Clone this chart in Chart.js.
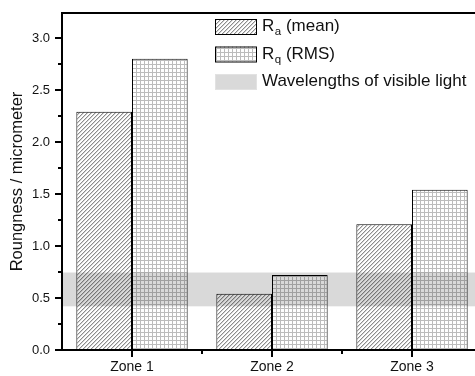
<!DOCTYPE html>
<html>
<head>
<meta charset="utf-8">
<script src="https://cdn.jsdelivr.net/npm/chart.js@4"></script>
<style>
html,body{margin:0;padding:0;overflow:hidden;background:#fff;width:475px;height:376px;}
#wrap{width:475px;height:376px;overflow:hidden;}
canvas{display:block;}
</style>
</head>
<body>
<div id="wrap"><canvas id="c" width="482" height="376" style="width:482px;height:376px"></canvas></div>
<script>
// ---- data ----
const zones = ['Zone 1', 'Zone 2', 'Zone 3'];
const raMean = [2.29, 0.54, 1.21];
const rqRms = [2.80, 0.72, 1.54];
const visibleLightBand = [0.42, 0.745];
const yAxisTitle = 'Roungness / micrometer';
const legendRa = ['R', 'a', ' (mean)'];
const legendRq = ['R', 'q', ' (RMS)'];
const legendBand = 'Wavelengths of visible light';

const FONT = '"Liberation Sans", Arial, Helvetica, sans-serif';

function hatchPattern() {
  const c = document.createElement('canvas'); c.width = 4; c.height = 4;
  const x = c.getContext('2d');
  x.fillStyle = '#fff'; x.fillRect(0, 0, 4, 4);
  x.fillStyle = '#d6d6d6';
  for (let i = 0; i < 4; i++) x.fillRect(i, (4 - i) % 4, 1, 1);
  x.fillStyle = '#8c8c8c';
  for (let i = 0; i < 4; i++) x.fillRect(i, 3 - i, 1, 1);
  return x.createPattern(c, 'repeat');
}
function gridPattern() {
  const c = document.createElement('canvas'); c.width = 4; c.height = 4;
  const x = c.getContext('2d');
  x.fillStyle = '#fff'; x.fillRect(0, 0, 4, 4);
  x.fillStyle = '#bcbcbc';
  x.fillRect(0, 0, 4, 1);
  x.fillRect(0, 0, 1, 4);
  return x.createPattern(c, 'repeat');
}
const raFill = hatchPattern();
const rqFill = gridPattern();

const decor = {
  id: 'decor',
  afterDatasetsDraw(chart) {
    const ctx = chart.ctx, a = chart.chartArea, y = chart.scales.y;
    const yTop = y.getPixelForValue(visibleLightBand[1]);
    const yBot = y.getPixelForValue(visibleLightBand[0]);
    ctx.save();
    ctx.fillStyle = 'rgba(0,0,0,0.15)';
    ctx.fillRect(a.left + 1, yTop, a.right - a.left, yBot - yTop);
    ctx.restore();
  },
  afterDraw(chart) {
    const ctx = chart.ctx, a = chart.chartArea, y = chart.scales.y, x = chart.scales.x;
    ctx.save();
    ctx.strokeStyle = '#000';
    ctx.lineWidth = 2;
    ctx.beginPath();
    ctx.moveTo(a.left, a.top); ctx.lineTo(a.right, a.top);
    ctx.moveTo(a.left, a.top - 1); ctx.lineTo(a.left, a.bottom + 1);
    ctx.moveTo(a.left - 1, a.bottom); ctx.lineTo(a.right, a.bottom);
    ctx.stroke();
    ctx.lineWidth = 2;
    ctx.beginPath();
    for (let k = 0; k <= 12; k++) {
      const v = k * 0.25;
      const py = Math.round(y.getPixelForValue(v));
      const len = (k % 2 === 0) ? 7 : 4;
      ctx.moveTo(a.left, py); ctx.lineTo(a.left - len, py);
    }
    for (let i = 0; i < zones.length; i++) {
      const px = Math.round(x.getPixelForValue(i));
      ctx.moveTo(px, a.bottom); ctx.lineTo(px, a.bottom + 7);
      if (i > 0) {
        const pm = Math.round((x.getPixelForValue(i) + x.getPixelForValue(i - 1)) / 2);
        ctx.moveTo(pm, a.bottom); ctx.lineTo(pm, a.bottom + 4);
      }
    }
    ctx.stroke();

    // legend
    const bx = 215, bw = 41, bh = 15, tx = 262;
    const rows = [
      {fill: raFill, stroke: '#000', txt: legendRa, top: 19},
      {fill: rqFill, stroke: '#000', txt: legendRq, top: 46.5},
      {fill: '#d9d9d9', stroke: '#e2e2e2', txt: legendBand, top: 74}
    ];
    ctx.lineWidth = 1;
    ctx.textBaseline = 'alphabetic';
    rows.forEach(r => {
      ctx.fillStyle = r.fill;
      ctx.fillRect(bx, r.top, bw, bh);
      ctx.strokeStyle = r.stroke;
      ctx.strokeRect(bx + 0.5, r.top + 0.5, bw, bh);
      ctx.fillStyle = '#111';
      const base = r.top + 12;
      if (Array.isArray(r.txt)) {
        ctx.font = '17px ' + FONT;
        ctx.fillText(r.txt[0], tx, base);
        let cx = tx + ctx.measureText(r.txt[0]).width + 0.5;
        ctx.font = '11.5px ' + FONT;
        ctx.fillText(r.txt[1], cx, base + 4);
        cx += ctx.measureText(r.txt[1]).width;
        ctx.font = '17px ' + FONT;
        ctx.fillText(r.txt[2], cx, base);
      } else {
        ctx.font = '17px ' + FONT;
        ctx.fillText(r.txt, tx, base);
      }
    });
    ctx.restore();
  }
};

new Chart(document.getElementById('c'), {
  type: 'bar',
  data: {
    labels: zones,
    datasets: [
      {label: 'Ra (mean)', data: raMean, backgroundColor: raFill, borderColor: '#000', borderWidth: 1},
      {label: 'Rq (RMS)', data: rqRms, backgroundColor: rqFill, borderColor: '#000', borderWidth: 1}
    ]
  },
  options: {
    responsive: false,
    animation: false,
    devicePixelRatio: 1,
    datasets: {bar: {categoryPercentage: 0.795, barPercentage: 1.0}},
    layout: {padding: {top: 13, right: 0, left: 0, bottom: 0}, autoPadding: false},
    plugins: {legend: {display: false}, tooltip: {enabled: false}},
    scales: {
      x: {
        type: 'category',
        offset: true,
        grid: {display: false, drawTicks: false},
        border: {display: false},
        ticks: {color: '#111', font: {family: FONT, size: 14}, padding: 9, maxRotation: 0},
        afterFit(s) { s.height = 26; s.paddingLeft = 0; s.paddingRight = 0; }
      },
      y: {
        min: 0, max: 3.24,
        grid: {display: false, drawTicks: false},
        border: {display: false},
        ticks: {
          stepSize: 0.5, includeBounds: false, padding: 12,
          color: '#111', font: {family: FONT, size: 13},
          callback: v => Number(v).toFixed(1)
        },
        title: {display: true, text: yAxisTitle, color: '#111', font: {family: FONT, size: 16.5}, padding: {top: 8, bottom: 0}},
        afterFit(s) { s.width = 62; s.paddingTop = 0; s.paddingBottom = 0; }
      }
    }
  },
  plugins: [decor]
});
</script>
</body>
</html>
